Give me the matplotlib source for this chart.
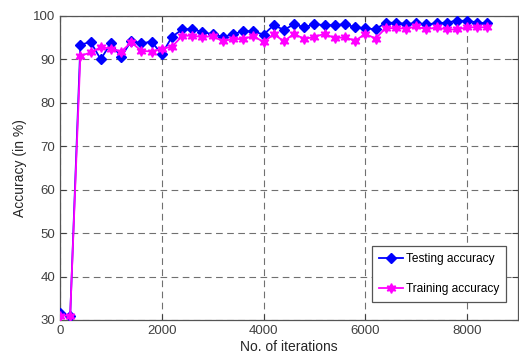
import matplotlib
matplotlib.use("Agg")
import matplotlib.pyplot as plt
import numpy as np

iterations = list(range(0, 8401, 200))
testing_acc = [31.7, 30.9, 93.3, 94.1, 90.0, 93.8, 90.5, 94.3, 93.7, 94.1,
               91.2, 95.2, 96.9, 97.0, 96.3, 95.8, 95.2, 95.8, 96.5, 96.5,
               95.7, 97.9, 96.8, 98.1, 97.4, 98.1, 97.9, 97.9, 98.1, 97.4,
               97.2, 96.9, 98.5, 98.4, 98.2, 98.3, 98.1, 98.3, 98.5, 98.9,
               98.9, 98.5, 98.3]
training_acc = [31.0, 31.0, 90.8, 91.6, 92.8, 92.5, 91.8, 93.9, 92.0, 91.8,
                92.5, 92.9, 95.4, 95.5, 95.1, 95.4, 94.2, 94.7, 94.7, 95.4,
                94.0, 95.8, 94.2, 95.9, 94.7, 95.2, 95.9, 94.9, 95.1, 94.3,
                95.9, 94.8, 97.2, 97.2, 97.1, 97.6, 96.9, 97.4, 96.9, 96.9,
                97.4, 97.4, 97.4]
xticks = [0, 2000, 4000, 6000, 8000]
yticks = [30, 40, 50, 60, 70, 80, 90, 100]

plt.rcParams['font.family'] = ['Liberation Sans', 'DejaVu Sans']
fig = plt.figure(figsize=(5.19, 3.62), dpi=100)
ax = fig.add_axes([60/519, 42/362, 458/519, 304/362])

ax.plot(iterations, testing_acc, color=(0, 0, 1), marker='D', markersize=5.5,
        linewidth=1.3, label='Testing accuracy', zorder=3)
ax.plot(iterations, training_acc, color=(1, 0, 1), marker=(6, 1, 0), markersize=7,
        linewidth=1.3, label='Training accuracy', zorder=3)

ax.set_xlim(0, 9000)
ax.set_ylim(30, 100)
ax.set_xticks(xticks)
ax.set_yticks(yticks)
ax.grid(True, linestyle=(0, (6, 4)), color='#707070', linewidth=0.8)
ax.tick_params(direction='in', labelsize=9.5, colors='#404040', length=4,
               top=True, right=True)
for s in ax.spines.values():
    s.set_color('#555555')
    s.set_linewidth(0.9)
ax.set_xlabel('No. of iterations', fontsize=10, color='#262626', labelpad=2)
ax.set_ylabel('Accuracy (in %)', fontsize=10, color='#262626', labelpad=4)

leg = ax.legend(loc='lower right', bbox_to_anchor=(0.974, 0.059), fontsize=8.6,
                fancybox=False, framealpha=1, edgecolor='#555555',
                handlelength=2.0, borderpad=0.6, labelspacing=1.5,
                handletextpad=0.2, borderaxespad=0)
leg.get_frame().set_linewidth(0.9)

fig.savefig('out.png', dpi=100)
